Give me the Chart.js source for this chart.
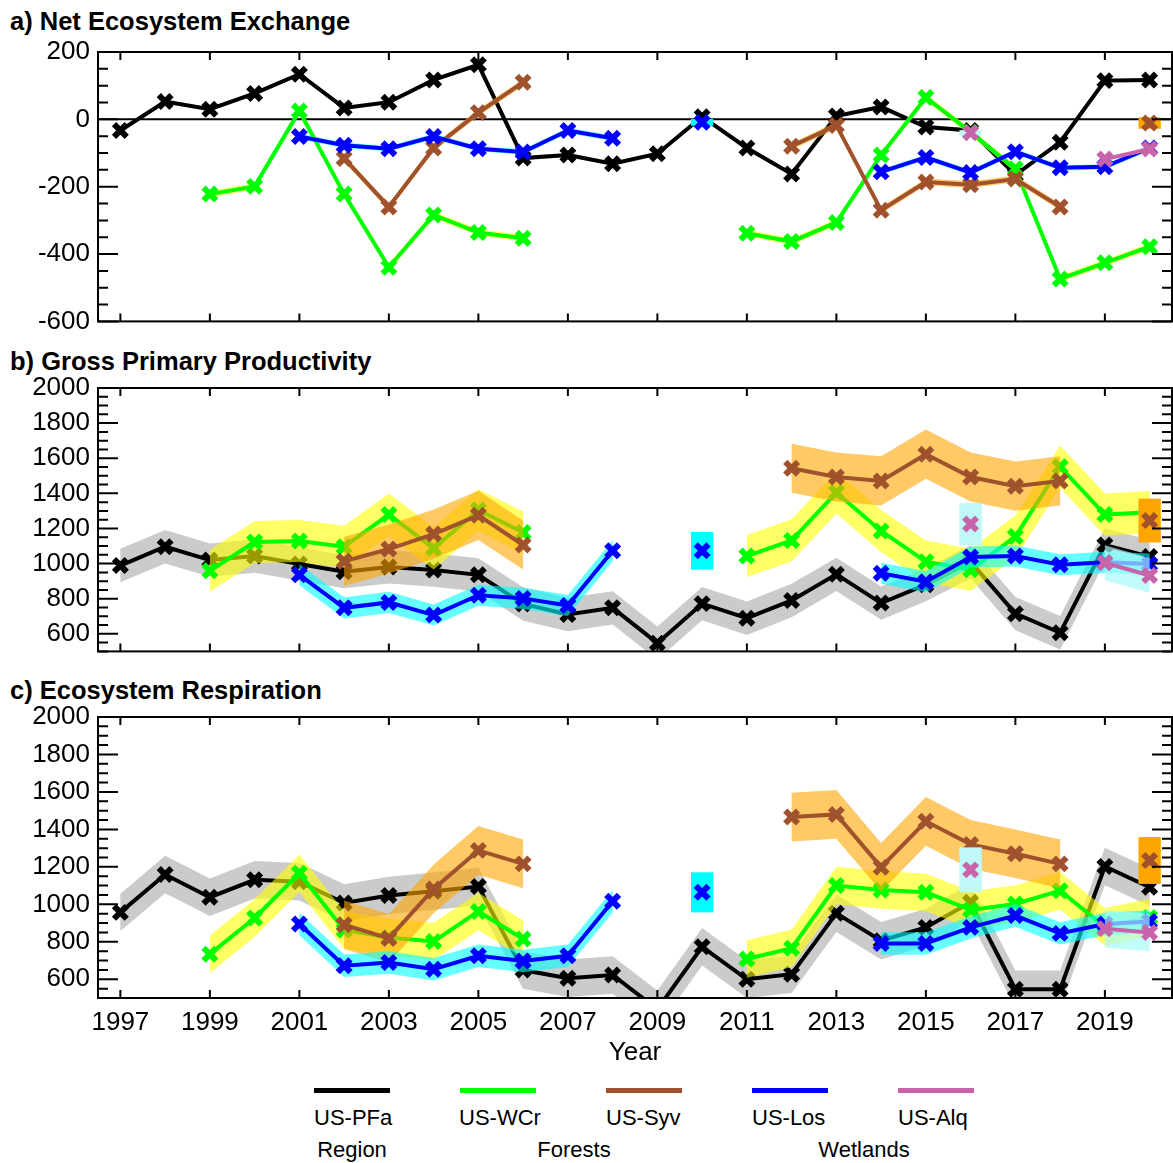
<!DOCTYPE html>
<html>
<head>
<meta charset="utf-8">
<script src="https://cdn.jsdelivr.net/npm/chart.js@4.4.0/dist/chart.umd.min.js"></script>
<style>
  body { margin: 0; background: #fff; width: 1173px; height: 1163px; position: relative; overflow: hidden;
         font-family: "Liberation Sans", Arial, sans-serif; color: #000; }
  canvas { position: absolute; left: 0; }
  .ttl { position: absolute; left: 10px; font-weight: bold; font-size: 25.5px; line-height: 30px; white-space: nowrap; }
  .sw { position: absolute; top: 1088px; width: 76px; height: 5px; }
  .lab { position: absolute; top: 1105px; font-size: 22px; line-height: 26px; white-space: nowrap; }
  .grp { position: absolute; top: 1137px; font-size: 22px; line-height: 26px; white-space: nowrap; transform: translateX(-50%); }
</style>
</head>
<body>
<div class="ttl" style="top:6px">a) Net Ecosystem Exchange</div>
<div class="ttl" style="top:346px">b) Gross Primary Productivity</div>
<div class="ttl" style="top:675px">c) Ecosystem Respiration</div>
<canvas id="nee" width="1173" height="345" style="top:0px"></canvas>
<canvas id="gpp" width="1173" height="330" style="top:345px"></canvas>
<canvas id="er" width="1173" height="400" style="top:675px"></canvas>

<div class="sw" style="left:314px;background:#000000"></div>
<div class="sw" style="left:460px;background:#00ff00"></div>
<div class="sw" style="left:606px;background:#a0522d"></div>
<div class="sw" style="left:752px;background:#0000ff"></div>
<div class="sw" style="left:898px;background:#c864aa"></div>
<div class="lab" style="left:314px">US-PFa</div>
<div class="lab" style="left:459px">US-WCr</div>
<div class="lab" style="left:606px">US-Syv</div>
<div class="lab" style="left:752px">US-Los</div>
<div class="lab" style="left:898px">US-Alq</div>
<div class="grp" style="left:352px">Region</div>
<div class="grp" style="left:574px">Forests</div>
<div class="grp" style="left:864px">Wetlands</div>

<script>
const years = [1997, 1998, 1999, 2000, 2001, 2002, 2003, 2004, 2005, 2006, 2007, 2008,
               2009, 2010, 2011, 2012, 2013, 2014, 2015, 2016, 2017, 2018, 2019, 2020];
const sites = ['US-PFa', 'US-WCr', 'US-Syv', 'US-Los', 'US-Alq'];

// a) NEE
const pfaNEE = [-33, 53, 30, 77, 134, 34, 51, 117, 162, -115, -106, -132, -102, 8, -85, -162, 10, 37, -23, -33, -165, -68, 115, 117];
const wcrNEE = [null, null, -222, -199, 25, -222, -439, -284, -336, -353, null, null, null, null, -338, -363, -306, -106, 65, -38, -147, -474, -426, -378];
const syvNEE = [null, null, null, null, null, -116, -260, -85, 20, 110, null, null, null, null, null, -80, -18, -270, -186, -194, -177, -260, null, -11];
const losNEE = [null, null, null, null, -51, -77, -87, -51, -87, -97, -33, -56, null, -9, null, null, null, -156, -113, -158, -96, -144, -141, -85];
const alqNEE = [null, null, null, null, null, null, null, null, null, null, null, null, null, null, null, null, null, null, null, -40, null, null, -118, -88];

// b) GPP
const pfaGPP = [989, 1096, 1020, 1043, 998, 954, 981, 963, 936, 770, 710, 748, 547, 772, 689, 790, 939, 775, 880, 1010, 715, 606, 1106, 1040];
const wcrGPP = [null, null, 959, 1123, 1129, 1096, 1279, 1087, 1305, 1177, null, null, null, null, 1043, 1132, 1405, 1186, 1011, 965, 1154, 1552, 1279, 1293];
const syvGPP = [null, null, null, null, null, 1013, 1083, 1168, 1275, 1106, null, null, null, null, null, 1543, 1493, 1471, 1623, 1493, 1441, 1471, null, 1245];
const losGPP = [null, null, null, null, 936, 748, 779, 707, 820, 802, 761, 1073, null, 1073, null, null, null, 945, 897, 1038, 1043, 993, 1007, 998];
const alqGPP = [null, null, null, null, null, null, null, null, null, null, null, null, null, null, null, null, null, null, null, 1225, null, null, 1005, 932];

// c) ER
const pfaER = [957, 1159, 1038, 1131, 1120, 1007, 1047, 1070, 1095, 649, 606, 623, 440, 773, 600, 627, 952, 806, 877, 1011, 547, 547, 1202, 1091];
const wcrER = [null, null, 734, 927, 1166, 863, 823, 802, 962, 815, null, null, null, null, 708, 766, 1100, 1077, 1064, 970, 1002, 1073, 880, 930];
const syvER = [null, null, null, null, null, 891, 818, 1082, 1288, 1216, null, null, null, null, null, 1466, 1480, 1198, 1443, 1320, 1270, 1216, null, 1234];
const losER = [null, null, null, null, 895, 672, 689, 654, 725, 698, 725, 1016, null, 1064, null, null, null, 791, 791, 877, 940, 845, 895, 909];
const alqER = [null, null, null, null, null, null, null, null, null, null, null, null, null, null, null, null, null, null, null, 1184, null, null, 870, 850];

// uncertainty half-widths per site (multi-year runs), and for single-year values
const bandNEE = [6, 10, 10, 8, 5];
const bandGPP = [95, 120, 140, 60, 100];
const bandER = [100, 100, 130, 60, 100];
const singleNEE = [6, 10, 17, 10, 8];
const singleGPP = [95, 120, 125, 107, 120];
const singleER = [100, 100, 125, 107, 120];

const xTicks = [1997, 1999, 2001, 2003, 2005, 2007, 2009, 2011, 2013, 2015, 2017, 2019];
const neeTicks = [-600, -400, -200, 0, 200];
const fluxTicks = [600, 800, 1000, 1200, 1400, 1600, 1800, 2000];

const lineColors = ['#000000', '#00ff00', '#a0522d', '#0000ff', '#c864aa'];
const bandColors = ['rgba(140,140,140,0.45)', 'rgba(255,255,0,0.6)', 'rgba(255,165,0,0.6)', 'rgba(0,255,255,0.6)', 'rgba(170,250,250,0.7)'];
const boxColors = ['#bbbbbb', '#ffff00', '#ffa500', '#00ffff', '#c0f8f8'];

Chart.defaults.font.family = '"Liberation Sans", Arial, sans-serif';
Chart.defaults.color = '#000';

// shaded uncertainty, drawn just before each site's line so layering follows site order
function bandsPlugin(series, widths, singles) {
  return {
    id: 'bands',
    beforeDatasetDraw(chart, args) {
      const i = args.index;
      const vals = series[i], w = widths[i], ws = singles[i];
      const x = chart.scales.x, y = chart.scales.y, ctx = chart.ctx, a = chart.chartArea;
      ctx.save();
      ctx.beginPath();
      ctx.rect(a.left, a.top, a.width, a.height);
      ctx.clip();
      let k = 0;
      while (k < vals.length) {
        if (vals[k] == null) { k++; continue; }
        let j = k;
        while (j + 1 < vals.length && vals[j + 1] != null) j++;
        if (j === k) {
          const xl = x.getPixelForValue(years[k] - 0.25), xr = x.getPixelForValue(years[k] + 0.25);
          const yt = y.getPixelForValue(vals[k] + ws), yb = y.getPixelForValue(vals[k] - ws);
          ctx.fillStyle = boxColors[i];
          ctx.fillRect(xl, yt, xr - xl, yb - yt);
        } else {
          ctx.beginPath();
          for (let m = k; m <= j; m++) ctx.lineTo(x.getPixelForValue(years[m]), y.getPixelForValue(vals[m] + w));
          for (let m = j; m >= k; m--) ctx.lineTo(x.getPixelForValue(years[m]), y.getPixelForValue(vals[m] - w));
          ctx.closePath();
          ctx.fillStyle = bandColors[i];
          ctx.fill();
        }
        k = j + 1;
      }
      ctx.restore();
    }
  };
}

// box round the plot with inward ticks, plus zero line when asked
function framePlugin(zeroLine) {
  return {
    id: 'frame',
    beforeDatasetsDraw(chart) {
      if (!zeroLine) return;
      const {ctx, chartArea: a, scales: {y}} = chart;
      const py = y.getPixelForValue(0);
      ctx.save();
      ctx.strokeStyle = '#000';
      ctx.lineWidth = 2;
      ctx.beginPath();
      ctx.moveTo(a.left, py);
      ctx.lineTo(a.right, py);
      ctx.stroke();
      ctx.restore();
    },
    afterDraw(chart) {
      const {ctx, chartArea: a, scales: {x, y}} = chart;
      ctx.save();
      ctx.strokeStyle = '#000';
      ctx.lineWidth = 2;
      ctx.strokeRect(a.left, a.top, a.width, a.height);
      ctx.beginPath();
      xTicks.forEach(v => {
        const px = x.getPixelForValue(v);
        ctx.moveTo(px, a.bottom); ctx.lineTo(px, a.bottom - 8);
        ctx.moveTo(px, a.top); ctx.lineTo(px, a.top + 8);
      });
      for (let v = y.min; v <= y.max; v += 50) {
        const len = v % 200 === 0 ? 20 : 10;
        const py = y.getPixelForValue(v);
        ctx.moveTo(a.left, py); ctx.lineTo(a.left + len, py);
        ctx.moveTo(a.right, py); ctx.lineTo(a.right - len, py);
      }
      ctx.stroke();
      ctx.restore();
    }
  };
}

function makePanel(id, series, widths, singles, yMin, yMax, yTicks, padTop, padBottom, bottomAxis, zeroLine) {
  const datasets = series.map((vals, i) => ({
    label: sites[i],
    data: vals.map((v, k) => ({x: years[k], y: v})),
    borderColor: lineColors[i],
    backgroundColor: lineColors[i],
    pointBorderColor: lineColors[i],
    pointBackgroundColor: lineColors[i],
    borderWidth: 4,
    pointStyle: 'crossRot',
    pointRadius: 9,
    pointHoverRadius: 9,
    pointBorderWidth: 6,
    spanGaps: false,
    tension: 0,
    order: 5 - i
  }));

  const xScale = {
    type: 'linear',
    min: 1996.5,
    max: 2020.5,
    display: bottomAxis,
    grid: {display: false, drawTicks: false},
    border: {display: false},
    afterBuildTicks: s => { s.ticks = xTicks.map(v => ({value: v})); },
    ticks: {font: {size: 26}, padding: 9, autoSkip: false, maxRotation: 0, callback: v => String(v)}
  };
  if (bottomAxis) {
    xScale.title = {display: true, text: 'Year', font: {size: 26}, padding: {top: 0, bottom: 7}};
    xScale.afterFit = s => { s.height = 77; };
  }

  new Chart(document.getElementById(id), {
    type: 'line',
    data: {datasets},
    options: {
      responsive: false,
      animation: false,
      layout: {autoPadding: false, padding: {top: padTop, bottom: padBottom, left: 0, right: 1}},
      plugins: {legend: {display: false}, tooltip: {enabled: false}},
      scales: {
        x: xScale,
        y: {
          min: yMin,
          max: yMax,
          grid: {display: false, drawTicks: false},
          border: {display: false},
          afterBuildTicks: s => { s.ticks = yTicks.map(v => ({value: v})); },
          afterFit: s => { s.width = 98; },
          ticks: {font: {size: 26}, padding: 8, autoSkip: false, callback: v => String(v)}
        }
      }
    },
    plugins: [bandsPlugin(series, widths, singles), framePlugin(zeroLine)]
  });
}

makePanel('nee', [pfaNEE, wcrNEE, syvNEE, losNEE, alqNEE], bandNEE, singleNEE, -600, 200, neeTicks, 52, 12, false, true);
makePanel('gpp', [pfaGPP, wcrGPP, syvGPP, losGPP, alqGPP], bandGPP, singleGPP, 500, 2000, fluxTicks, 43, 7, false, false);
makePanel('er', [pfaER, wcrER, syvER, losER, alqER], bandER, singleER, 500, 2000, fluxTicks, 42, 0, true, false);
</script>
</body>
</html>
